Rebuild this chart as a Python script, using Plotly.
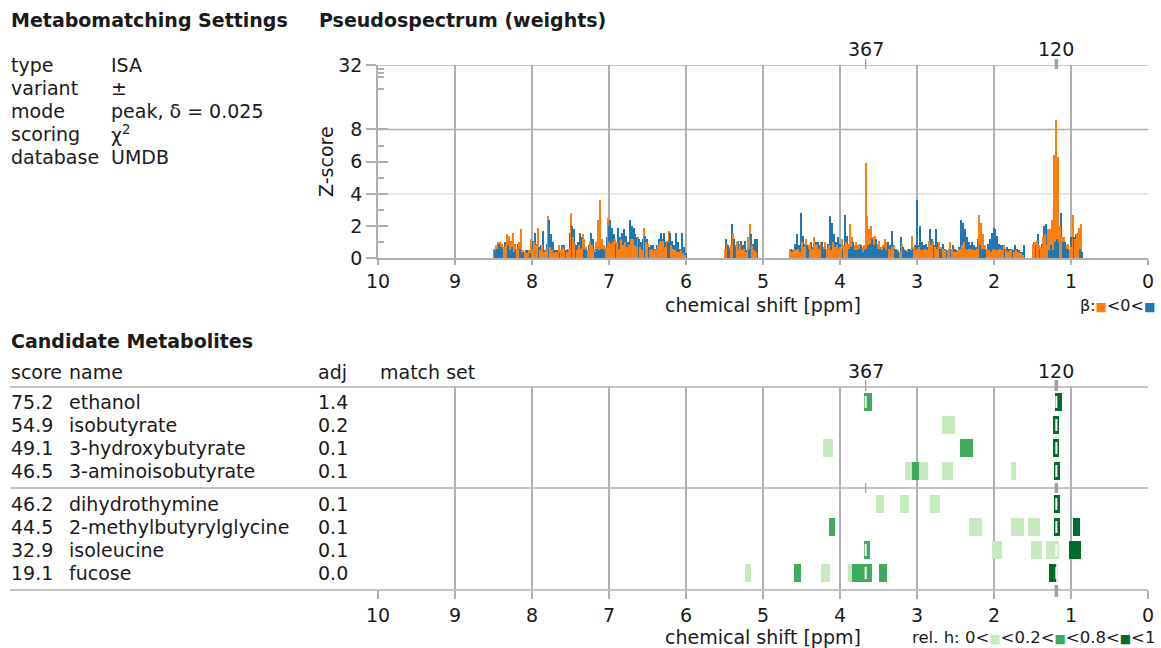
import numpy as np
import plotly.graph_objects as go

W, H = 1161, 648

# ---------------- data ----------------
settings_keys = ["type", "variant", "mode", "scoring", "database"]
settings_vals = ["ISA", "±", "peak, δ = 0.025", "χ<sup>2</sup>", "UMDB"]

BW = 0.025  # ppm bin width of pseudospectrum
# region A: 8.5 -> 6.0 ppm
orange_A = [0.6, 0.8, 1.0, 1.0, 0.9, 0.7, 0.8, 1.5, 1.4, 1.1, 1.6, 0.9, 0.6, 1.0, 1.8, 0.5,
            0.4, 0.3, 0.5, 1.2, 0.6, 1.0, 0.8, 1.9, 0.5, 0.8, 0.4, 0.6, 2.6, 0.7, 0.5, 0.3,
            0.4, 0.3, 0.8, 0.5, 0.7, 0.5, 0.4, 0.6, 2.8, 1.3, 0.9, 0.5, 0.8, 0.6, 1.5, 1.2,
            0.7, 0.5, 1.0, 0.8, 0.6, 1.0, 2.4, 3.6, 1.2, 0.8, 0.7, 2.5, 1.0, 0.9, 1.0, 1.2,
            1.0, 0.6, 1.2, 0.8, 1.0, 0.7, 0.8, 1.2, 1.2, 0.8, 0.7, 1.3, 0.7, 0.5, 1.9, 1.0,
            0.9, 0.5, 0.6, 0.5, 0.6, 0.8, 1.0, 1.1, 1.1, 0.7, 1.1, 1.7, 0.8, 0.6, 0.5, 0.4,
            0.4, 0.5, 0.3, 0.2]
blue_A = [0.5, 0.6, 0.9, 0.7, 0.6, 1.0, 1.2, 0.8, 0.5, 0.7, 0.4, 0.6, 0.9, 0.6, 0.3, 0.4,
          0.5, 0.5, 0.3, 0.4, 1.1, 1.6, 0.9, 0.7, 0.8, 1.7, 0.5, 0.9, 2.4, 1.5, 1.0, 0.5,
          0.5, 0.4, 0.3, 0.8, 0.8, 0.5, 0.6, 1.6, 2.0, 1.8, 0.8, 1.0, 1.6, 1.3, 0.6, 0.5,
          0.5, 0.8, 1.6, 1.2, 0.4, 0.6, 0.5, 0.6, 0.6, 0.5, 1.3, 2.0, 2.4, 1.9, 1.5, 0.9,
          1.9, 1.3, 1.6, 1.8, 1.4, 1.0, 2.4, 2.0, 1.9, 1.5, 1.3, 1.2, 1.0, 1.2, 1.4, 1.2,
          0.7, 0.8, 0.8, 0.6, 0.8, 1.2, 1.6, 1.2, 1.6, 1.0, 1.0, 1.6, 1.1, 0.8, 1.6, 1.0,
          0.6, 1.6, 0.7, 0.3]
# region B: 5.5 -> 5.0 ppm
orange_B = [0.6, 0.9, 0.7, 0.8, 1.6, 0.8, 1.0, 0.5, 0.9, 0.5, 0.6, 0.4,
            1.3, 2.1, 0.8, 0.5, 0.4, 0.0, 0.0, 0.0]
blue_B = [1.2, 0.8, 0.6, 2.1, 1.2, 0.7, 1.1, 0.9, 1.1, 0.8, 1.1, 0.5,
          0.6, 1.5, 0.9, 1.2, 1.2, 0.0, 0.0, 0.0]
# region C: 4.7 -> 0.8 ppm
orange_C = [0.0, 0.0, 0.5, 0.4, 0.6, 0.5, 0.6, 0.4, 1.0, 0.7, 1.2, 0.8, 0.9, 0.6, 1.3, 0.8,
            0.8, 0.6, 1.0, 0.7, 1.0, 0.6, 0.8, 0.5, 1.0, 0.7, 0.8, 0.6, 0.7, 1.2, 0.8, 1.0,
            0.9, 2.1, 1.3, 0.8, 1.0, 0.8, 0.9, 0.7, 0.8, 5.9, 2.6, 1.8, 2.0, 1.3, 1.4, 0.9,
            1.1, 0.7, 0.8, 1.2, 1.0, 0.6, 0.5, 0.7, 0.8, 0.6, 0.5, 0.4, 0.9, 0.6, 0.5, 0.6,
            0.6, 1.4, 0.7, 0.5, 0.6, 0.7, 0.5, 0.5, 0.6, 0.5, 1.1, 0.8, 1.1, 0.7, 0.6, 1.0,
            0.7, 0.6, 0.5, 0.5, 0.5, 1.0, 0.6, 0.4, 0.4, 0.5, 0.6, 0.8, 1.0, 0.6, 0.5, 0.6,
            0.6, 0.5, 0.5, 0.6, 2.7, 2.2, 1.5, 0.8, 0.6, 0.5, 0.4, 0.5, 0.6, 0.5, 0.5, 0.6,
            0.5, 0.8, 0.5, 0.4, 0.5, 0.6, 0.4, 0.5, 0.4, 0.3, 0.3, 0.2, 0.0, 0.0, 0.0, 0.0,
            0.9, 1.0, 1.1, 0.8, 0.7, 1.3, 1.5, 0.8, 1.8, 1.8, 2.4, 6.4, 9.7, 6.3, 2.0, 1.3,
            1.3, 0.8, 0.9, 0.6, 0.7, 2.7, 1.2, 1.5, 1.9, 2.1, 0.0, 0.0]
blue_C = [0.0, 0.0, 0.6, 0.5, 0.9, 1.5, 0.8, 2.8, 1.4, 0.9, 0.8, 0.6, 1.0, 0.7, 0.5, 1.0,
          1.0, 0.8, 1.0, 0.6, 0.6, 0.9, 2.6, 2.2, 1.5, 1.0, 1.3, 0.9, 0.9, 0.6, 2.7, 1.4,
          0.6, 0.7, 1.0, 0.5, 0.5, 0.6, 0.8, 0.4, 0.5, 0.6, 0.8, 0.9, 1.2, 0.8, 1.2, 0.6,
          0.6, 0.5, 0.7, 0.5, 1.0, 0.8, 1.7, 0.8, 0.6, 0.5, 0.4, 1.3, 0.7, 0.5, 0.4, 0.6,
          0.5, 0.6, 0.8, 3.6, 0.8, 2.0, 1.0, 0.8, 0.9, 0.7, 1.8, 1.2, 0.8, 1.8, 1.0, 0.6,
          0.6, 0.9, 0.6, 0.5, 0.6, 0.5, 0.8, 0.6, 0.5, 0.7, 2.4, 2.2, 1.8, 1.3, 1.0, 0.8,
          1.0, 0.8, 0.7, 1.2, 0.8, 0.6, 0.6, 0.5, 0.9, 1.2, 1.6, 1.9, 1.8, 1.4, 0.9, 0.8,
          0.8, 0.6, 0.7, 0.6, 0.6, 0.5, 0.8, 0.6, 0.5, 0.4, 0.4, 0.8, 0.0, 0.0, 0.0, 0.0,
          1.0, 0.8, 1.5, 0.6, 0.9, 2.0, 2.1, 1.8, 0.5, 0.8, 0.5, 1.0, 1.2, 1.0, 2.8, 1.0,
          1.0, 0.6, 0.5, 1.3, 0.9, 1.3, 1.5, 1.6, 0.6, 0.4, 0.0, 0.0]
region_starts = [8.5, 5.5, 4.7]

z_major = [0, 2, 4, 6, 8, 32]
z_minor = [1, 3, 5, 7, 19, 24.5, 27, 29.3]
z_threshold = 4

peaks = [3.667, 1.19]
peak_labels = ["367", "120"]

scores = [75.2, 54.9, 49.1, 46.5, 46.2, 44.5, 32.9, 19.1]
names = ["ethanol", "isobutyrate", "3-hydroxybutyrate", "3-aminoisobutyrate",
         "dihydrothymine", "2-methylbutyrylglycine", "isoleucine", "fucose"]
adj = [1.4, 0.2, 0.1, 0.1, 0.1, 0.1, 0.1, 0.0]
# match sets: (ppm low, ppm high, relative height)
matches = [
    [(3.59, 3.69, 0.5), (1.12, 1.21, 0.9)],
    [(2.51, 2.67, 0.1), (1.16, 1.24, 0.9)],
    [(4.09, 4.22, 0.1), (2.27, 2.44, 0.5), (1.16, 1.24, 0.9)],
    [(2.86, 3.15, 0.1), (2.98, 3.06, 0.5), (2.53, 2.67, 0.1), (1.71, 1.78, 0.1), (1.14, 1.22, 0.9)],
    [(3.43, 3.53, 0.1), (3.10, 3.22, 0.1), (2.70, 2.83, 0.1), (1.14, 1.22, 0.9)],
    [(4.06, 4.14, 0.5), (2.16, 2.32, 0.1), (1.61, 1.78, 0.1), (1.40, 1.56, 0.1), (1.14, 1.22, 0.9), (0.88, 0.98, 0.9)],
    [(3.61, 3.69, 0.5), (1.89, 2.03, 0.1), (1.38, 1.52, 0.1), (1.16, 1.32, 0.1), (0.87, 1.03, 0.9)],
    [(5.16, 5.24, 0.1), (4.51, 4.60, 0.5), (4.13, 4.25, 0.1), (3.83, 3.90, 0.1), (3.70, 3.84, 0.5),
     (3.59, 3.70, 0.5), (3.39, 3.50, 0.5), (1.20, 1.29, 0.9), (1.17, 1.20, 0.1)],
]
relh_edges = [0, 0.2, 0.8, 1]
group_size = 4

# ---------------- style / layout ----------------
FONT = "DejaVu Sans"
TXT = "#1a1a1a"
GRID = "#b0b0b0"
MARK = "#a0a0a0"
ORANGE = "#ff7f0e"
BLUE = "#1f77b4"
GREENS = ["#c7e9c0", "#41ab5d", "#006d2c"]
THRESH = "#d3ebcd"

X0, X1 = 378, 1148          # px of 10 ppm and 0 ppm
T_TOP, T_BOT = 65, 258.3    # top panel
B_TOP, B_BOT = 387, 590     # bottom panel
ROW0, PITCH, GAP = 402, 23, 10
SEP = 488


def px(x):
    return x / W


def py(y):
    return 1 - y / H


def zt(z):
    return z if z <= 8 else 8 + 2 * np.log2(z / 8)


fig = go.Figure()

# pseudospectrum bars: in each bin the taller bar goes to the back layer
layers = {"back": ([], [], []), "front": ([], [], [])}
for start, o, b in zip(region_starts, [orange_A, orange_B, orange_C], [blue_A, blue_B, blue_C]):
    for k, (vo, vb) in enumerate(zip(o, b)):
        c = start - BW * (k + 0.5)
        pair = [(vo, c + BW / 4, ORANGE), (vb, c - BW / 4, BLUE)]
        pair.sort(key=lambda t: -t[0])
        for (v, xc, col), lay in zip(pair, ["back", "front"]):
            if v > 0:
                layers[lay][0].append(xc); layers[lay][1].append(zt(v)); layers[lay][2].append(col)
for lay in ["back", "front"]:
    xs, ys, cs = layers[lay]
    fig.add_bar(x=xs, y=ys, width=0.0135, marker=dict(color=cs, line_width=0),
                xaxis="x", yaxis="y", hoverinfo="skip")

# match set boxes
row_y = [ROW0 + PITCH * i + (GAP if i >= group_size else 0) for i in range(len(names))]
for ci in range(3):
    xs, bs, ys = [], [], []
    for i, ms in enumerate(matches):
        for lo, hi, h in ms:
            if relh_edges[ci] <= h < relh_edges[ci + 1] or (ci == 2 and h == 1):
                xs.append(hi - lo); bs.append(lo); ys.append(row_y[i])
    fig.add_bar(x=xs, base=bs, y=ys, orientation="h", width=18,
                marker=dict(color=GREENS[ci], line_width=0),
                xaxis="x2", yaxis="y2", hoverinfo="skip")

# white slits where a match box contains a marked peak
sx, sy = [], []
for i, ms in enumerate(matches):
    for p in peaks:
        if any(lo <= p <= hi for lo, hi, _ in ms):
            sx += [p, p, None]; sy += [row_y[i] - 6, row_y[i] + 6, None]
fig.add_scatter(x=sx, y=sy, mode="lines", line=dict(color="white", width=2),
                xaxis="x2", yaxis="y2", hoverinfo="skip")

shapes = []
# top panel horizontal lines
for zv, col in [(8, GRID), (32, GRID), (z_threshold, THRESH)]:
    shapes.append(dict(type="line", xref="x domain", x0=0, x1=1, yref="y", y0=zt(zv), y1=zt(zv),
                       line=dict(color=col, width=1.5), layer="below"))
# bottom panel horizontal rules
for yy in [B_TOP, SEP, B_BOT]:
    shapes.append(dict(type="line", xref="paper", x0=px(10), x1=px(X1), yref="paper",
                       y0=py(yy), y1=py(yy), line=dict(color=GRID, width=1.5)))

# annotations
ann = []


def text(t, x, y, size=19, bold=False, xa="left", ya="middle", angle=0, xref="paper"):
    if bold:
        t = "<b>" + t + "</b>"
    ann.append(dict(text=t, x=px(x) if xref == "paper" else x, y=py(y), xref=xref, yref="paper",
                    xanchor=xa, yanchor=ya, showarrow=False, textangle=angle,
                    font=dict(family=FONT, size=size, color=TXT)))


# peak markers (tick marks + labels above each panel)
for p, lab in zip(peaks, peak_labels):
    wide = lab == "120"
    wdt = 3.5 if wide else 1.3
    segs = [(59, 69), (380, 391), (483, 493)] + ([(585, 597)] if wide else [])
    for a, b in segs:
        shapes.append(dict(type="line", xref="x2", x0=p, x1=p, yref="paper", y0=py(a), y1=py(b),
                           line=dict(color=MARK, width=wdt)))
    text(lab, p, 49, xa="center", xref="x")
    text(lab, p, 371, xa="center", xref="x2")

text("Metabomatching Settings", 9, 20, bold=True)
text("Pseudospectrum (weights)", 317, 20, bold=True)
text("Candidate Metabolites", 9, 341, bold=True)
for i, (k, v) in enumerate(zip(settings_keys, settings_vals)):
    text(k, 9, 65 + 23 * i)
    text(v, 109, 65 + 23 * i)
text("score", 9, 372)
text("name", 67, 372)
text("adj", 316, 372)
text("match set", 378, 372)
for i in range(len(names)):
    text(f"{scores[i]:.1f}", 9, row_y[i])
    text(names[i], 67, row_y[i])
    text(f"{adj[i]:.1f}", 316, row_y[i])
text("Z-score", 326, 162, angle=-90, xa="center")
text("chemical shift [ppm]", 763, 305, xa="center")
text("chemical shift [ppm]", 763, 637, xa="center")


def sqr(c):
    return f'<span style="color:{c};font-size:12px">■</span>'


text(f"β:{sqr(ORANGE)}&lt;0&lt;{sqr(BLUE)}", 1157, 305, size=16, xa="right")
text(f"rel. h: 0&lt;{sqr(GREENS[0])}&lt;0.2&lt;{sqr(GREENS[1])}&lt;0.8&lt;{sqr(GREENS[2])}&lt;1",
     1157, 637, size=16.5, xa="right")

xdom = [px(X0), px(X1)]
tickfont = dict(family=FONT, size=19, color=TXT)
common_x = dict(domain=xdom, range=[10, 0], tickmode="linear", tick0=0, dtick=1,
                showgrid=True, gridcolor=GRID, gridwidth=1.5, zeroline=False, automargin=False,
                ticks="outside", tickcolor=GRID, tickwidth=1.5, tickfont=tickfont)

fig.update_layout(
    width=W, height=H, autosize=False,
    margin=dict(l=0, r=0, t=0, b=0, pad=0, autoexpand=False),
    paper_bgcolor="white", plot_bgcolor="white",
    showlegend=False, barmode="overlay", bargap=0,
    font=dict(family=FONT, size=19, color=TXT),
    xaxis=dict(**common_x, anchor="y", ticklen=5, showline=True, linecolor=GRID, linewidth=1.5),
    yaxis=dict(domain=[py(T_BOT), py(T_TOP)], range=[0, zt(32)], anchor="x", automargin=False,
               tickmode="array", tickvals=[zt(v) for v in z_major], ticktext=[str(v) for v in z_major],
               ticks="outside", ticklen=10, tickcolor=GRID, tickwidth=1.5, tickfont=tickfont,
               showgrid=False, zeroline=False, showline=True, linecolor=GRID, linewidth=1.5),
    yaxis3=dict(overlaying="y", anchor="x", side="left", range=[0, zt(32)], automargin=False,
                tickmode="array", tickvals=[zt(v) for v in z_major], showticklabels=False,
                ticks="inside", ticklen=10, tickcolor=GRID, tickwidth=1.5,
                minor=dict(tickmode="array", tickvals=[zt(v) for v in z_minor], ticks="inside",
                           ticklen=6, tickcolor=GRID, tickwidth=1.5, showgrid=False),
                showgrid=False, zeroline=False, showline=False),
    xaxis2=dict(**common_x, anchor="y2", ticklen=8, showline=False),
    yaxis2=dict(domain=[py(B_BOT), py(B_TOP)], range=[B_BOT, B_TOP], anchor="x2", automargin=False,
                showgrid=False, zeroline=False, showticklabels=False, ticks="", showline=False),
    shapes=shapes,
    annotations=ann,
)
# empty trace so the overlaid tick axis is rendered
fig.add_scatter(x=[None], y=[None], xaxis="x", yaxis="y3", hoverinfo="skip")

fig.write_html("out.html",
               post_script="document.body.style.margin='0';document.body.style.overflow='hidden';")
